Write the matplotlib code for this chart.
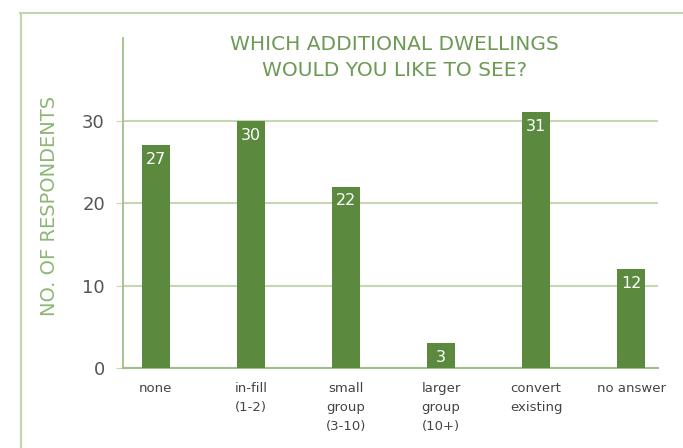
import matplotlib
matplotlib.use("Agg")
import matplotlib.pyplot as plt
from matplotlib.lines import Line2D

# data
categories = ["none", "in-fill\n(1-2)", "small\ngroup\n(3-10)", "larger\ngroup\n(10+)",
              "convert\nexisting", "no answer"]
respondents = [27, 30, 22, 3, 31, 12]
y_ticks = [0, 10, 20, 30]

BAR_GREEN = "#5b8a3f"
LIGHT_GREEN = "#c5d8b4"
TEXT_GREEN = "#6d9a55"

plt.rcParams["font.family"] = ["DejaVu Sans"]

fig = plt.figure(figsize=(6.83, 4.48), dpi=100)
ax = fig.add_axes([0.180, 0.1786, 0.783, 0.7364])

x = range(len(categories))
bars = ax.bar(x, respondents, width=0.30, color=BAR_GREEN, zorder=3)

# value labels just inside the bar tops
for b, v in zip(bars, respondents):
    ax.annotate(str(v), (b.get_x() + b.get_width() / 2, v), xytext=(0, -5),
                textcoords="offset points", ha="center", va="top",
                color="white", fontsize=11.5, zorder=4)

ax.set_xlim(-0.347, 5.28)
ax.set_ylim(0, 40)
ax.set_yticks(y_ticks)
ax.set_xticks(list(x))
ax.set_xticklabels(categories, fontsize=9.5, color="#444444", linespacing=1.6)
ax.tick_params(axis="x", length=0, pad=10)
ax.tick_params(axis="y", length=5, color=LIGHT_GREEN, labelsize=13,
               labelcolor="#555555", pad=8)
ax.yaxis.grid(True, color=LIGHT_GREEN, linewidth=1.5, zorder=0)

for side in ["top", "right"]:
    ax.spines[side].set_visible(False)
ax.spines["left"].set_color("#9fbf88")
ax.spines["bottom"].set_color("#9fbf88")
ax.spines["left"].set_linewidth(1.3)
ax.spines["bottom"].set_linewidth(1.5)

ax.set_ylabel("NO. OF RESPONDENTS", color="#8db676", fontsize=14)
ax.yaxis.set_label_coords(-0.12, 0.49)

fig.text(0.578, 0.871, "WHICH ADDITIONAL DWELLINGS\nWOULD YOU LIKE TO SEE?",
         ha="center", va="center", color=TEXT_GREEN, fontsize=14.5, linespacing=1.45)

# outer frame lines
fig.add_artist(Line2D([0.03, 1.0], [0.971, 0.971], color="#c0d6ae", linewidth=1.5))
fig.add_artist(Line2D([0.031, 0.031], [0.0, 0.971], color="#c0d6ae", linewidth=1.5))

fig.savefig("out.png", dpi=100)
